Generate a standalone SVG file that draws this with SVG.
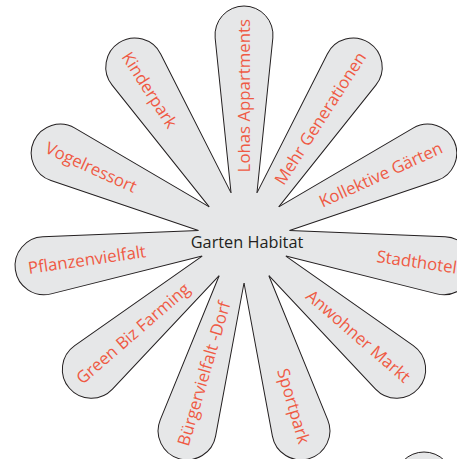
<svg xmlns="http://www.w3.org/2000/svg" width="457" height="459" viewBox="0 0 457 459">
<defs>
<style>
.petal{fill:#e6e7e8;stroke:#231f20;stroke-width:1}
.hub{fill:#e6e7e8;stroke:none}
.lbl{font-family:"Open Sans","Noto Sans",sans-serif;font-size:16.8px;fill:#ef5a44}
.lr{text-anchor:end}
.ll{text-anchor:start}
.ctr{font-family:"Open Sans","Noto Sans",sans-serif;font-size:16.3px;fill:#231f20;text-anchor:middle}
</style>
<path id="p" d="M44.14,-12.96 L199.04,-28.85 A29,29 0 1 1 199.04,28.85 L44.14,12.96"/>
</defs>
<rect width="457" height="459" fill="#ffffff"/>
<g id="flower" transform="translate(244 237)">
<circle class="hub" r="46"/>
<g id="lohas" transform="rotate(-90)"><use href="#p" class="petal"/><text class="lbl lr" x="218" y="6">Lohas Appartments</text></g>
<g id="mehr" transform="rotate(-57.273)"><use href="#p" class="petal"/><text class="lbl lr" x="218" y="6">Mehr Generationen</text></g>
<g id="kollektive" transform="rotate(-24.545)"><use href="#p" class="petal"/><text class="lbl lr" x="217" y="6">Kollektive Gärten</text></g>
<g id="stadthotel" transform="rotate(8.182)"><use href="#p" class="petal"/><text class="lbl lr" x="215" y="6">Stadthotel</text></g>
<g id="anwohner" transform="rotate(40.909)"><use href="#p" class="petal"/><text class="lbl lr" x="217" y="6">Anwohner Markt</text></g>
<g id="sportpark" transform="rotate(73.636)"><use href="#p" class="petal"/><text class="lbl lr" x="215" y="6">Sportpark</text></g>
<g id="buerger" transform="rotate(106.364)"><use href="#p" class="petal"/><text class="lbl ll" x="217" y="6" transform="rotate(180 217 0)">Bürgervielfalt -Dorf</text></g>
<g id="greenbiz" transform="rotate(139.091)"><use href="#p" class="petal"/><text class="lbl ll" x="219" y="6" transform="rotate(180 219 0)">Green Biz Farming</text></g>
<g id="pflanzen" transform="rotate(171.818)"><use href="#p" class="petal"/><text class="lbl ll" x="218" y="6" transform="rotate(180 218 0)">Pflanzenvielfalt</text></g>
<g id="vogel" transform="rotate(204.545)"><use href="#p" class="petal"/><text class="lbl ll" x="217" y="6" transform="rotate(180 217 0)">Vogelressort</text></g>
<g id="kinder" transform="rotate(237.273)"><use href="#p" class="petal"/><text class="lbl ll" x="218" y="6" transform="rotate(180 218 0)">Kinderpark</text></g>
<g id="center"><text class="ctr" x="3" y="11">Garten Habitat</text></g>
</g>
<g id="connectors"></g>
<g id="partial"><circle class="petal" cx="424" cy="481" r="29"/></g>
</svg>
